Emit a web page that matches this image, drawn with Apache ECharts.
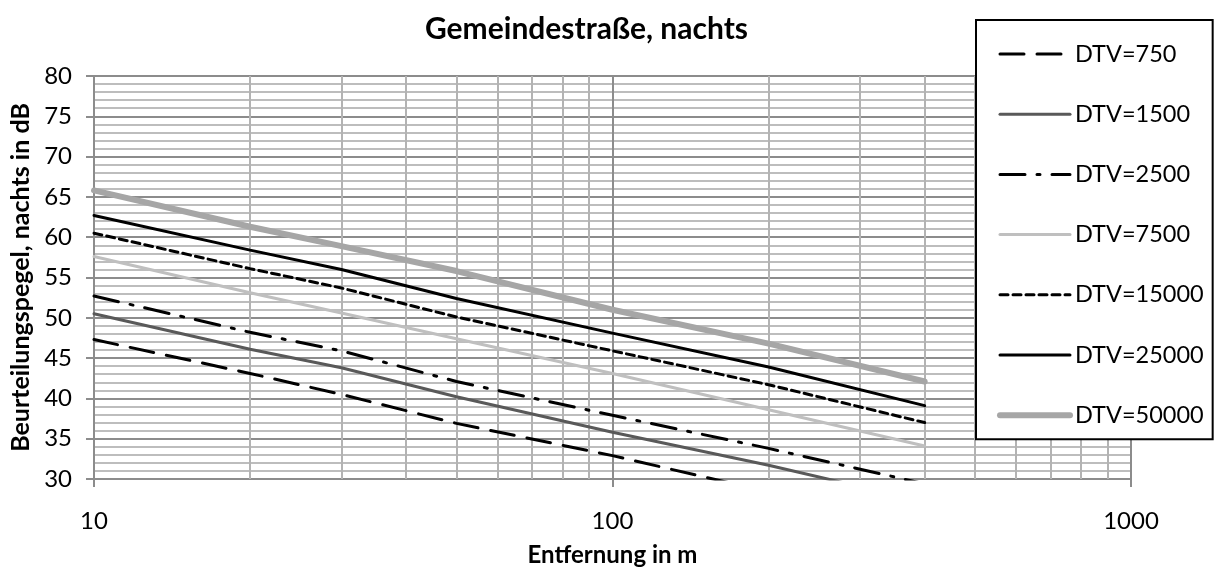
<!DOCTYPE html>
<html>
<head>
<meta charset="utf-8">
<script src="https://cdn.jsdelivr.net/npm/echarts@6/dist/echarts.min.js"></script>
<style>html,body{margin:0;padding:0;background:#fff}#c{width:1219px;height:569px}</style>
</head>
<body>
<div id="c"></div>
<script>
const distances = [10, 20, 30, 50, 100, 200, 400];
const dtv750   = [47.3, 43.1, 40.5, 36.9, 32.9, 28.4, 23.9];
const dtv1500  = [50.5, 46.1, 43.8, 40.2, 35.8, 31.7, 27.2];
const dtv2500  = [52.7, 48.2, 45.9, 42.1, 37.9, 33.8, 29.4];
const dtv7500  = [57.6, 53.1, 50.6, 47.4, 43.1, 38.6, 34.1];
const dtv15000 = [60.5, 56.1, 53.7, 50.1, 45.9, 41.7, 37.0];
const dtv25000 = [62.7, 58.4, 56.0, 52.4, 48.1, 43.9, 39.1];
const dtv50000 = [65.8, 61.3, 58.9, 55.8, 51.0, 46.8, 42.1];
const minorX = [20, 30, 40, 50, 60, 70, 80, 90, 200, 300, 400, 500, 600, 700, 800, 900];
const majorX = [100];

const FONT = 'Lato';
function pts(vals) { return distances.map((d, i) => [d, vals[i]]); }

const styles = [
  { name: 'DTV=750',   data: dtv750,   color: '#000000', width: 3, type: [24, 13] },
  { name: 'DTV=1500',  data: dtv1500,  color: '#595959', width: 3, type: 'solid' },
  { name: 'DTV=2500',  data: dtv2500,  color: '#000000', width: 3, type: [25, 12, 3, 12] },
  { name: 'DTV=7500',  data: dtv7500,  color: '#bfbfbf', width: 3, type: 'solid' },
  { name: 'DTV=15000', data: dtv15000, color: '#000000', width: 3, type: [8, 5] },
  { name: 'DTV=25000', data: dtv25000, color: '#000000', width: 3, type: 'solid' },
  { name: 'DTV=50000', data: dtv50000, color: '#a6a6a6', width: 6, type: 'solid' }
];

const series = styles.map((s, i) => ({
  name: s.name,
  type: 'line',
  data: pts(s.data),
  symbol: 'none',
  clip: true,
  z: 10 + i,
  lineStyle: { color: s.color, width: s.width, type: s.type, cap: 'round' },
  itemStyle: { color: s.color }
}));

// vertical gridlines placed through the log axis
series.push({
  name: 'grid',
  type: 'line',
  data: [],
  silent: true,
  z: 1,
  markLine: {
    silent: true,
    symbol: 'none',
    label: { show: false },
    animation: false,
    data: minorX.map(v => ({ xAxis: v, lineStyle: { color: '#b3b3b3', width: 2, type: 'solid' } }))
      .concat(majorX.map(v => ({ xAxis: v, lineStyle: { color: '#8c8c8c', width: 2, type: 'solid' } })))
  }
});

const chart = echarts.init(document.getElementById('c'));
chart.setOption({
  animation: false,
  backgroundColor: '#ffffff',
  textStyle: { fontFamily: FONT },
  title: {
    text: 'Gemeindestraße, nachts',
    left: 420,
    top: 9,
    textStyle: { fontFamily: FONT, fontSize: 30, fontWeight: 'bold', color: '#000' }
  },
  grid: { left: 94, right: 88, top: 76, bottom: 90, containLabel: false, outerBoundsMode: 'none' },
  xAxis: {
    type: 'log',
    logBase: 10,
    min: 10,
    max: 1000,
    name: 'Entfernung in m',
    nameLocation: 'middle',
    nameGap: 64,
    nameTextStyle: { fontFamily: FONT, fontSize: 24, fontWeight: 'bold', color: '#000' },
    axisLine: { show: true, lineStyle: { color: '#8c8c8c', width: 2 } },
    axisTick: { show: true, length: 8, lineStyle: { color: '#8c8c8c', width: 2 } },
    axisLabel: { margin: 30, fontFamily: FONT, fontSize: 24, color: '#000', formatter: v => String(v) },
    splitLine: { show: true, lineStyle: { color: '#8c8c8c', width: 2 } },
    minorTick: { show: false },
    minorSplitLine: { show: false }
  },
  yAxis: {
    type: 'value',
    min: 30,
    max: 80,
    interval: 5,
    name: 'Beurteilungspegel, nachts in dB',
    nameLocation: 'middle',
    nameGap: 60,
    nameTextStyle: { fontFamily: FONT, fontSize: 25, fontWeight: 'bold', color: '#000' },
    axisLine: { show: true, lineStyle: { color: '#8c8c8c', width: 2 } },
    axisTick: { show: true, length: 8, lineStyle: { color: '#8c8c8c', width: 2 } },
    axisLabel: { margin: 22, fontFamily: FONT, fontSize: 24, color: '#000' },
    splitLine: { show: true, lineStyle: { color: '#8c8c8c', width: 2 } },
    minorTick: { show: false, splitNumber: 5 },
    minorSplitLine: { show: true, lineStyle: { color: '#bdbdbd', width: 2 } }
  },
  legend: {
    data: styles.map(s => ({ name: s.name, lineStyle: { width: s.width } })),
    orient: 'vertical',
    left: 976,
    top: 20,
    z: 50,
    padding: [22, 9, 12, 21],
    itemWidth: 70,
    itemHeight: 20,
    itemGap: 36.2,
    backgroundColor: '#ffffff',
    borderColor: '#000000',
    borderWidth: 2,
    borderRadius: 0,
    selectedMode: false,
    itemStyle: { opacity: 0 },
    textStyle: { fontFamily: FONT, fontSize: 23.5, color: '#000' }
  },
  series: series
});
</script>
</body>
</html>
